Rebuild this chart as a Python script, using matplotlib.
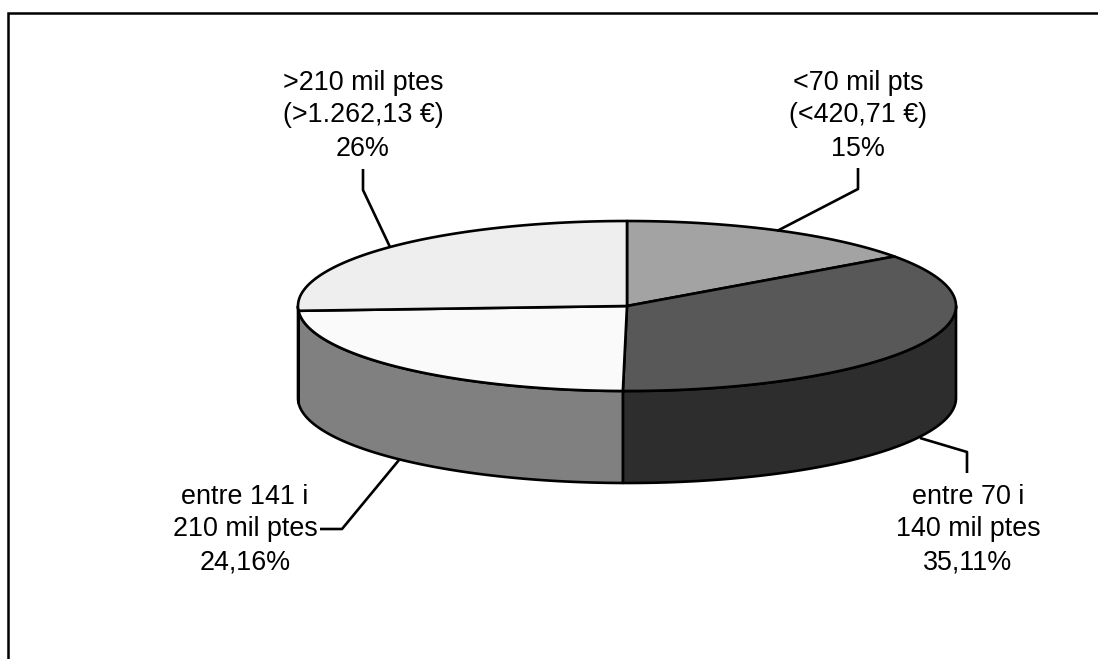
import numpy as np
import matplotlib
matplotlib.use("Agg")
import matplotlib.pyplot as plt
from matplotlib.patches import Polygon

# slices clockwise from 12 o'clock, sizes as measured on the drawn pie
values = [15.1, 35.1, 23.9, 25.9]
labels = [
    "<70 mil pts\n(<420,71 €)\n15%",
    "entre 70 i\n140 mil ptes\n35,11%",
    "entre 141 i\n210 mil ptes\n24,16%",
    ">210 mil ptes\n(>1.262,13 €)\n26%",
]
top_colors = ["#a3a3a3", "#585858", "#fafafa", "#eeeeee"]
side_colors = ["#525252", "#2d2d2d", "#808080", "#808080"]
label_pos = [(858, 115.5), (968, 529.5), (245, 529.5), (363, 115.5)]
leaders = [
    [(858, 168), (858, 189), (777, 231)],
    [(967, 473), (967, 452), (920, 438)],
    [(320, 529), (342, 529), (399, 460)],
    [(363, 169), (363, 190), (390, 247)],
]

cx, cy = 627, 306
rx, ry = 329, 85
depth = 92
lw = 1.9

plt.rcParams['font.family'] = ['Liberation Sans', 'DejaVu Sans']
fig = plt.figure(figsize=(10.98, 6.59), dpi=100)
ax = fig.add_axes([0, 0, 1, 1])
ax.set_xlim(0, 1098)
ax.set_ylim(659, 0)
ax.axis('off')


def rim(a0, a1, dy=0):
    t = np.radians(np.linspace(a0, a1, 120))
    return np.column_stack([cx + rx * np.sin(t), cy + dy - ry * np.cos(t)])


edges = np.concatenate([[0], np.cumsum(values)]) / sum(values) * 360

# walls first, only the front half shows
for i in range(len(values)):
    a0, a1 = max(edges[i], 90), min(edges[i + 1], 270)
    if a1 <= a0:
        continue
    pts = np.vstack([rim(a0, a1), rim(a0, a1, depth)[::-1]])
    ax.add_patch(Polygon(pts, closed=True, fc=side_colors[i], ec='black', lw=lw, joinstyle='round'))

for i in range(len(values)):
    pts = np.vstack([[(cx, cy)], rim(edges[i], edges[i + 1])])
    ax.add_patch(Polygon(pts, closed=True, fc=top_colors[i], ec='black', lw=lw, joinstyle='round'))

for line, lab, pos in zip(leaders, labels, label_pos):
    xs, ys = zip(*line)
    ax.plot(xs, ys, color='black', lw=lw, solid_capstyle='butt')
    ax.text(pos[0], pos[1], lab, ha='center', va='center', ma='center',
            fontsize=19.4, linespacing=1.35, color='black')

# chart frame, cropped on the right and bottom
ax.plot([8, 8, 1098], [659, 13, 13], color='black', lw=1.8, solid_joinstyle='miter')

fig.savefig("out.png", dpi=100)
